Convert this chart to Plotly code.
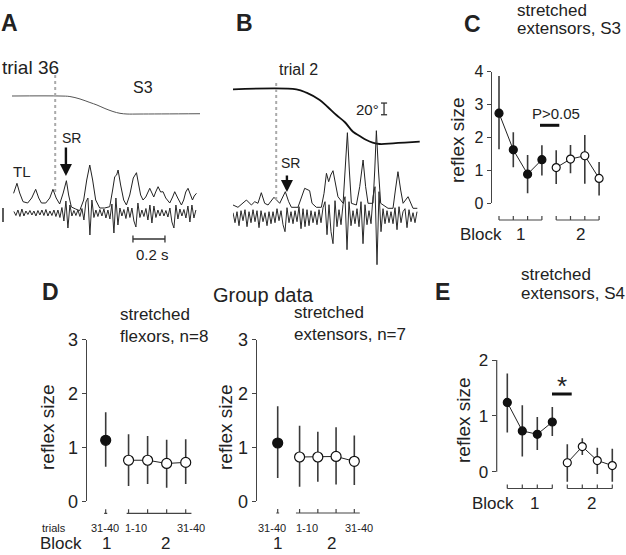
import numpy as np
import plotly.graph_objects as go

W, H = 626, 555
FONT = "Arial, Liberation Sans, sans-serif"
TXT = "#222222"
LN = "#333333"

# ---------------- data ----------------
# Panel A : trial 36, S3 (time in ms, angle in deg, EMG in uV)
A_POS_T = [0, 300, 362, 425, 487, 531, 581, 631, 675, 719, 800, 1175]
A_POS_DEG = [0, 0, -0.9, -5.1, -11.1, -15.4, -21.4, -26.5, -29.6, -30.8, -30.8, -30.3]
A_ENV_T = [10, 31, 48, 69, 98, 123, 148, 167, 184, 211, 236, 256, 276, 298, 320, 340, 354, 371,
           398, 423, 448, 467, 486, 504, 523, 548, 579, 611, 629, 642, 654, 663, 679, 698, 715,
           736, 758, 778, 792, 804, 819, 836, 861, 873, 886, 898, 913, 929, 944, 961, 986, 1004,
           1017, 1036, 1059, 1073, 1086, 1100, 1114, 1128, 1139, 1153]
A_ENV_UV = [187, 287, 190, 103, 90, 140, 227, 140, 90, 90, 140, 227, 140, 80, 190, 313, 170, 50,
            30, 13, 120, 320, 470, 320, 120, 40, 40, 53, 220, 353, 370, 420, 270, 120, 70,
            170, 340, 393, 270, 170, 120, 150, 237, 190, 150, 200, 253, 200, 203, 140, 90, 150,
            203, 140, 70, 120, 200, 237, 170, 120, 160, 187]
A_RAW_T0, A_RAW_DT = 12, 12.5
A_RAW_UV = [15, -25, 30, -35, 40, -30, 20, -15, 25, -20,
            20, -30, 25, -20, 30, -25, 35, -30, 20, -25,
            30, -35, 30, -45, 55, -80, 120, -150, 80, -30,
            25, -25, 30, -35, 45, -70, 110, 150, -220, 130,
            -45, 30, -35, 35, -30, 40, -50, 30, -60, 90,
            -200, 150, -120, 50, -30, 35, -55, 60, -45, 50,
            -80, -140, 100, -45, 30, -35, 45, -70, 80, -100,
            70, -45, 30, -30, 35, -30, 25, -40, 50, -90,
            -150, 80, -60, 40, -30, 35, -50, 70, -90, 80,
            -50, 30]

# Panel B : trial 2
B_POS_T = [0, 396, 459, 542, 592, 646, 698, 750, 792, 834, 873, 917, 1000, 1073, 1167]
B_POS_DEG = [0, 0, -5.8, -18.3, -30.3, -44.0, -55.9, -72.6, -79.8, -86.7, -91.0, -93.5, -92.3, -91.0, -89.6]
B_ENV_T = [0, 31, 84, 115, 136, 156, 177, 198, 219, 256, 292, 327, 348, 365, 406, 431, 448, 479,
           494, 521, 552, 569, 584, 598, 611, 625, 642, 656, 688, 702, 715, 727, 740, 771, 792,
           813, 829, 844, 875, 886, 896, 909, 923, 969, 1000, 1015, 1031, 1048, 1063, 1094, 1125, 1152]
B_ENV_UV = [70, 47, 120, 70, 103, 87, 193, 87, 70, 147, 87, 203, 103, 47, 47, 153, 237, 213,
            87, 47, 47, 187, 387, 303, 370, 413, 253, 153, 87, 420, 793, 420, 87, 70, 253,
            520, 253, 87, 87, 420, 813, 420, 87, 37, 37, 220, 403, 220, 87, 153, 37, 37]
B_RAW_T0, B_RAW_DT = 0, 12.5
B_RAW_UV = [40, -60, 50, -90, 60, -40, 70, -100, 50, -60,
            70, -50, 60, -110, 60, -50, 40, -90, 50, -70,
            50, -60, 80, -40, 60, -80, -150, 90, -60, 50,
            -70, 60, -50, 100, -120, 80, -100, 70, -90, 60,
            -60, 50, -80, 70, -60, 90, 150, -180, 120, -150,
            -270, 160, -100, 70, -80, 120, 200, -330, 150, -90,
            60, -70, 80, -100, 150, -270, 120, -80, 60, -70,
            200, 300, -480, 250, -150, 80, -70, 60, -60, 50,
            -70, 90, -130, 100, -60, 50, 80, -110, 70, -50,
            40, -60, 50]
STIM_T = 270      # ms, dotted line
SR_T = 337        # ms, short-latency reflex

# Panel C : stretched extensors, S3
C_X1 = [1, 2, 3, 4]
C_X2 = [5, 6, 7, 8]
C_M1 = [2.74, 1.62, 0.88, 1.32]
C_HI1 = [3.87, 2.16, 1.46, 1.76]
C_LO1 = [1.64, 1.09, 0.30, 0.84]
C_M2 = [1.08, 1.34, 1.44, 0.75]
C_HI2 = [1.61, 1.77, 2.07, 1.25]
C_LO2 = [0.58, 0.91, 0.59, 0.23]

# Panel D : group data
D_X1 = [0]
D_X2 = [1.2, 2.2, 3.2, 4.2]
DF_M1, DF_HI1, DF_LO1 = [1.13], [1.65], [0.64]
DF_M2 = [0.76, 0.76, 0.70, 0.72]
DF_HI2 = [1.24, 1.21, 1.14, 1.15]
DF_LO2 = [0.28, 0.32, 0.25, 0.32]
DE_M1, DE_HI1, DE_LO1 = [1.08], [1.76], [0.43]
DE_M2 = [0.82, 0.82, 0.83, 0.74]
DE_HI2 = [1.40, 1.29, 1.37, 1.22]
DE_LO2 = [0.27, 0.36, 0.31, 0.30]

# Panel E : stretched extensors, S4
E_X1 = [1, 2, 3, 4]
E_X2 = [5, 6, 7, 8]
E_M1 = [1.24, 0.73, 0.67, 0.89]
E_HI1 = [1.76, 1.19, 0.98, 1.16]
E_LO1 = [0.70, 0.27, 0.39, 0.64]
E_M2 = [0.16, 0.45, 0.20, 0.11]
E_HI2 = [0.49, 0.60, 0.43, 0.41]
E_LO2 = [-0.18, 0.30, -0.04, -0.18]

# ---------------- helpers ----------------
def px(x):
    return x / W

def py(y):
    return 1 - y / H

def xdom(pl, pr, vref, pref, ppu):
    return dict(domain=[pl / W, pr / W],
                range=[vref + (pl - pref) / ppu, vref + (pr - pref) / ppu])

def ydom(pt, pb, vref, pref, ppu):
    return dict(domain=[1 - pb / H, 1 - pt / H],
                range=[vref - (pb - pref) / ppu, vref + (pref - pt) / ppu])

fig = go.Figure()
shapes = []
ann = []

def text(s, x, y, size=17, xanchor="center", bold=False, color=TXT, angle=0):
    if bold:
        s = "<b>" + s + "</b>"
    ann.append(dict(text=s, x=px(x), y=py(y), xref="paper", yref="paper", showarrow=False,
                    xanchor=xanchor, yanchor="middle", textangle=angle,
                    font=dict(family=FONT, size=size, color=color)))

def line(xr, yr, x0, y0, x1, y1, color=LN, width=1.2, dash=None):
    d = dict(type="line", xref=xr, yref=yr, x0=x0, y0=y0, x1=x1, y1=y1,
             line=dict(color=color, width=width))
    if dash:
        d["line"]["dash"] = dash
    shapes.append(d)

# ---------------- Panel A ----------------
ms_per_px = 6.25
A_X = xdom(12, 200, 0, 12, 1 / ms_per_px)
B_X = xdom(233, 421, 0, 233, 1 / ms_per_px)
deg_ppu = 0.585
uv_ppu = 0.1

a_raw_t = [A_RAW_T0 + i * A_RAW_DT for i in range(len(A_RAW_UV))]
b_raw_t = [B_RAW_T0 + i * B_RAW_DT for i in range(len(B_RAW_UV))]

fig.add_trace(go.Scatter(x=A_POS_T, y=A_POS_DEG, xaxis="x", yaxis="y", mode="lines",
                         line=dict(color="#555", width=1, shape="spline"), hoverinfo="skip"))
fig.add_trace(go.Scatter(x=a_raw_t, y=A_RAW_UV, xaxis="x", yaxis="y3", mode="lines",
                         line=dict(color="#2a2a2a", width=1), hoverinfo="skip"))
fig.add_trace(go.Scatter(x=A_ENV_T, y=A_ENV_UV, xaxis="x", yaxis="y2", mode="lines",
                         line=dict(color="#222", width=1), hoverinfo="skip"))

# ---------------- Panel B ----------------
fig.add_trace(go.Scatter(x=B_POS_T, y=B_POS_DEG, xaxis="x2", yaxis="y4", mode="lines",
                         line=dict(color="#111", width=1.8, shape="spline"), hoverinfo="skip"))
fig.add_trace(go.Scatter(x=b_raw_t, y=B_RAW_UV, xaxis="x2", yaxis="y6", mode="lines",
                         line=dict(color="#2a2a2a", width=1), hoverinfo="skip"))
fig.add_trace(go.Scatter(x=B_ENV_T, y=B_ENV_UV, xaxis="x2", yaxis="y5", mode="lines",
                         line=dict(color="#222", width=1), hoverinfo="skip"))

# dotted stimulus lines
line("x", "paper", STIM_T, py(75), STIM_T, py(193), color="#aaaaaa", width=2, dash="dot")
line("x2", "paper", STIM_T, py(83), STIM_T, py(200), color="#aaaaaa", width=2, dash="dot")

# 0.2 s scale bar
line("x", "paper", 756, py(239), 956, py(239), color=LN, width=1.3)
line("x", "paper", 756, py(235.5), 756, py(242.5), color=LN, width=1.3)
line("x", "paper", 956, py(235.5), 956, py(242.5), color=LN, width=1.3)
# EMG scale bar (A)
line("paper", "y3", px(3), 50, px(3), -90, color=LN, width=1.6)
# 20 deg scale bar (B)
line("x2", "y4", 944, -23.5, 944, -43.5, color=LN, width=1.3)
line("x2", "y4", 925, -23.5, 963, -23.5, color=LN, width=1.3)
line("x2", "y4", 925, -43.5, 963, -43.5, color=LN, width=1.3)

# SR arrows
for xr, tip, tail in (("x", 176, 146), ("x2", 192, 174)):
    ann.append(dict(text="", x=SR_T, y=py(tip), xref=xr, yref="paper", showarrow=True,
                    ax=0, ay=-(tip - tail), axref="pixel", ayref="pixel",
                    arrowhead=2, arrowsize=1.0, arrowwidth=2.4, arrowcolor="#111"))

# ---------------- statistic panels ----------------
def errpanel(xa, ya, xs, m, hi, lo, filled, msize):
    fig.add_trace(go.Scatter(
        x=xs, y=m, xaxis=xa, yaxis=ya, mode="lines+markers",
        line=dict(color="#222", width=1),
        marker=dict(size=msize, color="#111" if filled else "white",
                    line=dict(color="#111", width=1.2)),
        error_y=dict(type="data", symmetric=False,
                     array=[h - v for h, v in zip(hi, m)],
                     arrayminus=[v - l for v, l in zip(m, lo)],
                     color="#3a3a3a", thickness=1.6, width=0),
        hoverinfo="skip"))

# C
errpanel("x3", "y7", C_X1, C_M1, C_HI1, C_LO1, True, 8)
errpanel("x3", "y7", C_X2, C_M2, C_HI2, C_LO2, False, 8)
# D
errpanel("x4", "y8", D_X1, DF_M1, DF_HI1, DF_LO1, True, 10)
errpanel("x4", "y8", D_X2, DF_M2, DF_HI2, DF_LO2, False, 10)
errpanel("x5", "y9", D_X1, DE_M1, DE_HI1, DE_LO1, True, 10)
errpanel("x5", "y9", D_X2, DE_M2, DE_HI2, DE_LO2, False, 10)
# E
errpanel("x6", "y10", E_X1, E_M1, E_HI1, E_LO1, True, 8)
errpanel("x6", "y10", E_X2, E_M2, E_HI2, E_LO2, False, 8)

def bracket(xr, xs, ypx, tick=4, ext_l=0.0, ext_r=0.0):
    line(xr, "paper", min(xs) - ext_l, py(ypx), max(xs) + ext_r, py(ypx), color="#444", width=1.2)
    for v in xs:
        line(xr, "paper", v, py(ypx), v, py(ypx - tick), color="#444", width=1.2)

bracket("x3", C_X1, 220)
bracket("x3", C_X2, 220)
bracket("x6", E_X1, 488.5)
bracket("x6", E_X2, 488.5)
bracket("x4", D_X1, 513.3, ext_l=0.08, ext_r=0.08)
bracket("x4", D_X2, 513.3, ext_l=0.1, ext_r=0.3)
bracket("x5", D_X1, 513, ext_l=0.08, ext_r=0.08)
bracket("x5", D_X2, 513, ext_l=0.2, ext_r=0.3)

# E y-axis line (range extends below 0 for error bars)
line("paper", "y10", px(496.7), 0, px(496.7), 2, color="#444", width=1.2)

# significance bars
line("paper", "paper", px(540), py(125.3), px(559.3), py(125.3), color="#111", width=3)
line("paper", "paper", px(552), py(394), px(571.7), py(394), color="#111", width=3)

# ---------------- axes ----------------
hidden = dict(visible=False, fixedrange=True)
def yvis(tickvals, size, showline=True):
    return dict(visible=True, showgrid=False, zeroline=False, showline=showline,
                linecolor="#444", linewidth=1.2, ticks="outside", ticklen=4,
                tickcolor="#444", tickwidth=1.2, tickvals=tickvals,
                ticktext=[str(v) for v in tickvals],
                tickfont=dict(family=FONT, size=size, color=TXT), automargin=False)

layout = dict(
    width=W, height=H, margin=dict(l=0, r=0, t=0, b=0, autoexpand=False),
    paper_bgcolor="white", plot_bgcolor="rgba(0,0,0,0)", showlegend=False,
    template="none", font=dict(family=FONT, color=TXT),
    xaxis=dict(**A_X, **hidden, anchor="y"),
    yaxis=dict(**ydom(70, 140, 0, 96, deg_ppu), **hidden, anchor="x"),
    yaxis2=dict(**ydom(120, 215, 0, 212, uv_ppu), **hidden, anchor="x"),
    yaxis3=dict(**ydom(185, 250, 0, 213, uv_ppu), **hidden, anchor="x"),
    xaxis2=dict(**B_X, **hidden, anchor="y4"),
    yaxis4=dict(**ydom(70, 160, 0, 89.3, deg_ppu), **hidden, anchor="x2"),
    yaxis5=dict(**ydom(120, 215, 0, 212, uv_ppu), **hidden, anchor="x2"),
    yaxis6=dict(**ydom(185, 272, 0, 216.7, uv_ppu), **hidden, anchor="x2"),
    xaxis3=dict(**xdom(491.7, 612, 1, 499, 14.3), **hidden, anchor="y7"),
    yaxis7=dict(**ydom(71.7, 203, 0, 203, 32.8), **yvis([0, 1, 2, 3, 4], 16), anchor="x3"),
    xaxis4=dict(**xdom(86.7, 205, 0, 105.7, 19.05), **hidden, anchor="y8"),
    yaxis8=dict(**ydom(339.5, 501.2, 0, 501.2, 53.9), **yvis([0, 1, 2, 3], 18), anchor="x4"),
    xaxis5=dict(**xdom(256.7, 375, 0, 277.7, 18.24), **hidden, anchor="y9"),
    yaxis9=dict(**ydom(339.5, 501.2, 0, 501.2, 53.9), **yvis([0, 1, 2, 3], 18), anchor="x5"),
    xaxis6=dict(**xdom(496.7, 620, 1, 507.3, 15), **hidden, anchor="y10"),
    yaxis10=dict(**ydom(360, 488.5, 0, 471.7, 55.85), **yvis([0, 1, 2], 17, showline=False), anchor="x6"),
)

# ---------------- texts ----------------
text("A", 9, 23, 23, bold=True)
text("B", 244, 23, 23, bold=True)
text("C", 472, 24, 23, bold=True)
text("D", 50, 292, 23, bold=True)
text("E", 442, 292, 23, bold=True)

text("trial 36", 61, 68, 19, xanchor="right")
text("S3", 143, 88, 16)
text("SR", 71, 138, 14)
text("TL", 22, 172, 15)
text("0.2 s", 152, 255, 15)
text("trial 2", 298, 69, 16)
text("20°", 367, 110, 15)
text("SR", 290, 163, 14)

text("stretched", 515, 10, 17, xanchor="left")
text("extensors, S3", 515, 28.5, 17, xanchor="left")
text("reflex size", 457, 140, 19, angle=-90)
text("P>0.05", 556, 113, 15)
text("Block", 481, 234, 17)
text("1", 520.5, 234, 17)
text("2", 580.5, 234, 17)

text("Group data", 211, 295, 20, xanchor="left")
text("stretched", 118, 314, 17, xanchor="left")
text("flexors, n=8", 118, 336, 17, xanchor="left")
text("stretched", 292, 312, 17, xanchor="left")
text("extensors, n=7", 292, 334, 17, xanchor="left")
text("reflex size", 47, 427, 19, angle=-90)
text("reflex size", 225, 427, 19, angle=-90)
text("trials", 54, 528, 11)
for x, s in ((105.3, "31-40"), (136, "1-10"), (191, "31-40"),
             (272, "31-40"), (306.7, "1-10"), (359, "31-40")):
    text(s, x, 528, 11)
text("Block", 60.5, 543, 17)
text("1", 106.2, 543, 17)
text("2", 165, 543, 17)
text("1", 277.5, 543, 17)
text("2", 331, 543, 17)

text("stretched", 519, 274, 17, xanchor="left")
text("extensors, S4", 519, 293, 17, xanchor="left")
text("reflex size", 463, 420, 19, angle=-90)
text("*", 562, 386, 26)
text("Block", 492.5, 503, 17)
text("1", 534, 503, 17)
text("2", 591, 503, 17)

layout["shapes"] = shapes
layout["annotations"] = ann
fig.update_layout(**layout)
fig.write_html("out.html", config={"displayModeBar": False},
               post_script="document.body.style.margin='0';document.body.style.overflow='hidden';")
